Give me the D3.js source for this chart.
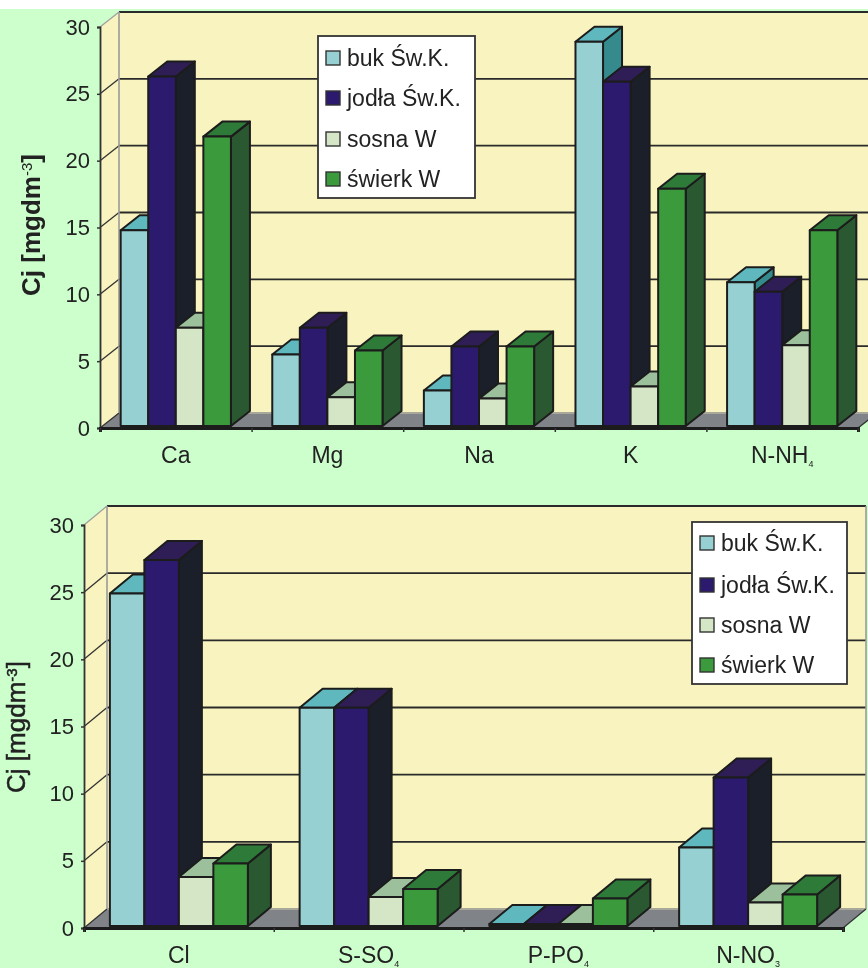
<!DOCTYPE html>
<html>
<head>
<meta charset="utf-8">
<script src="https://cdn.jsdelivr.net/npm/d3@7"></script>
<style>
    html, body { margin: 0; padding: 0; background: #ccffcc; overflow: hidden; }
    svg { display: block; filter: blur(0.6px); }
    text { font-family: "Liberation Sans", Arial, sans-serif; fill: #222; }
</style>
</head>
<body>
<div id="chart"></div>
<script>
// Data
const seriesNames = ["buk Św.K.", "jodła Św.K.", "sosna W", "świerk W"];
const yTicks = [0, 5, 10, 15, 20, 25, 30];

const topCategories = [["Ca"], ["Mg"], ["Na"], ["K"], ["N-NH", "4"]];
const topBuk = [14.8, 5.5, 2.8, 28.9, 10.9];
const topJodla = [26.3, 7.5, 6.1, 25.9, 10.2];
const topSosna = [7.5, 2.3, 2.2, 3.1, 6.2];
const topSwierk = [21.8, 5.8, 6.1, 17.9, 14.8];

const bottomCategories = [["Cl"], ["S-SO", "4"], ["P-PO", "4"], ["N-NO", "3"]];
const bottomBuk = [24.9, 16.4, 0.3, 6.0];
const bottomJodla = [27.4, 16.4, 0.3, 11.2];
const bottomSosna = [3.8, 2.3, 0.3, 1.9];
const bottomSwierk = [4.8, 2.9, 2.2, 2.5];

// front, top, side
const barColors = [
    ["#96d0d2", "#5fb8be", "#348a8c"],
    ["#2c1a6e", "#2e1e55", "#1b1f2a"],
    ["#d4e6c6", "#9cc09c", "#6f9070"],
    ["#3b9a3c", "#2e7a38", "#2a5830"]
];

const width = 868, height = 968;
const svg = d3.select("#chart").append("svg")
    .attr("width", width).attr("height", height);

svg.append("rect").attr("width", width).attr("height", height).attr("fill", "#ccffcc");
svg.append("rect").attr("width", width).attr("height", 9).attr("fill", "#ffffff");

drawChart({
    categories: topCategories,
    values: [topBuk, topJodla, topSosna, topSwierk],
    left: 100, right: 858, y0: 428, y30: 27, dx: 19, dy: 15,
    title: { x: 40, y: 225, weight: "bold", stroke: 0 },
    labelY: 463,
    legend: { x: 318, y: 36, w: 157, h: 162, rows: [58, 98, 139, 179] }
});

drawChart({
    categories: bottomCategories,
    values: [bottomBuk, bottomJodla, bottomSosna, bottomSwierk],
    left: 84, right: 843, y0: 928, y30: 525, dx: 23, dy: 19,
    title: { x: 25, y: 727, weight: "normal", stroke: 0.5 },
    labelY: 963,
    legend: { x: 692, y: 522, w: 155, h: 162, rows: [543, 585, 625, 665] }
});

function poly(points) {
    return points.map(p => p.join(",")).join(" ");
}

function drawChart(c) {
    const g = svg.append("g");
    const x0 = d3.scaleBand().domain(d3.range(c.categories.length)).range([c.left, c.right]);
    const x1 = d3.scaleBand().domain(d3.range(seriesNames.length))
        .range([0, x0.bandwidth()]).paddingInner(0).paddingOuter(0.75);
    const y = d3.scaleLinear().domain([0, 30]).range([c.y0, c.y30]);

    const L = c.left, R = c.right, dx = c.dx, dy = c.dy;

    // walls and floor
    g.append("polygon").attr("fill", "#f9f4bf")
        .attr("points", poly([[L + dx, y(30) - dy], [R + dx, y(30) - dy], [R + dx, y(0) - dy], [L + dx, y(0) - dy]]));
    g.append("polygon").attr("fill", "#f9f4bf")
        .attr("points", poly([[L, y(30)], [L + dx, y(30) - dy], [L + dx, y(0) - dy], [L, y(0)]]));
    g.append("polygon").attr("fill", "#808488")
        .attr("points", poly([[L, y(0)], [L + dx, y(0) - dy], [R + dx, y(0) - dy], [R, y(0)]]));

    // gridlines, on the back wall and running down the left wall
    yTicks.forEach(t => {
        const gy = y(t) - dy;
        g.append("line").attr("x1", L + dx).attr("x2", R + dx).attr("y1", gy).attr("y2", gy)
            .attr("stroke", t === 0 ? "#a8a89a" : "#2a2a2a").attr("stroke-width", 1.8);
        g.append("line").attr("x1", L).attr("x2", L + dx).attr("y1", y(t)).attr("y2", gy)
            .attr("stroke", t === 30 ? "#a0a0a0" : "#333").attr("stroke-width", 1.3);
    });
    // wall edges
    g.append("line").attr("x1", L + dx).attr("x2", L + dx).attr("y1", y(30) - dy).attr("y2", y(0) - dy)
        .attr("stroke", "#9a9a9a").attr("stroke-width", 1.6);
    g.append("line").attr("x1", R + dx).attr("x2", R + dx).attr("y1", y(30) - dy).attr("y2", y(0) - dy)
        .attr("stroke", "#9a9a9a").attr("stroke-width", 1.6);
    g.append("line").attr("x1", R).attr("x2", R + dx).attr("y1", y(0)).attr("y2", y(0) - dy)
        .attr("stroke", "#333").attr("stroke-width", 1.3);

    // bars, left to right so each one covers the side of the previous one
    c.categories.forEach((cat, i) => {
        seriesNames.forEach((name, s) => {
            const xa = x0(i) + x1(s), xb = xa + x1.bandwidth();
            const top = y(c.values[s][i]), base = y(0) - 2;
            const bar = g.append("g").attr("stroke", "#1c1c1c").attr("stroke-width", 2)
                .attr("stroke-linejoin", "round");
            bar.append("polygon").attr("fill", barColors[s][2])
                .attr("points", poly([[xb, top], [xb + dx, top - dy], [xb + dx, base - dy], [xb, base]]));
            bar.append("polygon").attr("fill", barColors[s][1])
                .attr("points", poly([[xa, top], [xa + dx, top - dy], [xb + dx, top - dy], [xb, top]]));
            bar.append("rect").attr("fill", barColors[s][0])
                .attr("x", xa).attr("y", top).attr("width", xb - xa).attr("height", base - top);
        });
    });

    // axes
    const yAxis = g.append("g").attr("transform", `translate(${L},0)`)
        .call(d3.axisLeft(y).tickValues(yTicks).tickSize(3).tickPadding(7));
    yAxis.selectAll("text").style("font-size", "22px");
    yAxis.select(".domain").attr("stroke", "#333").attr("stroke-width", 1.8);
    yAxis.selectAll(".tick line").attr("stroke", "#333").attr("stroke-width", 1.5);

    const xAxis = g.append("g").attr("transform", `translate(0,${y(0)})`)
        .call(d3.axisBottom(d3.scaleLinear().domain([0, c.categories.length]).range([L, R]))
            .ticks(c.categories.length).tickSize(4).tickFormat(""));
    xAxis.select(".domain").attr("stroke", "#1c1c1c").attr("stroke-width", 3);
    xAxis.selectAll(".tick line").attr("stroke", "#333").attr("stroke-width", 1.5);

    // category labels, with the chemical subscript
    c.categories.forEach((cat, i) => {
        const t = g.append("text").attr("x", x0(i) + x0.bandwidth() / 2).attr("y", c.labelY)
            .attr("text-anchor", "middle").style("font-size", "23px");
        t.append("tspan").text(cat[0]);
        if (cat[1]) t.append("tspan").attr("dy", 4).style("font-size", "9px").text(cat[1]);
    });

    // y title
    const title = g.append("text")
        .attr("transform", `translate(${c.title.x},${c.title.y}) rotate(-90)`)
        .attr("text-anchor", "middle")
        .attr("stroke", "#222").attr("stroke-width", c.title.stroke)
        .style("font-size", "26px").style("font-weight", c.title.weight);
    title.append("tspan").text("Cj [mgdm");
    title.append("tspan").attr("dy", -8).style("font-size", "15px").style("font-weight", "normal").text("-3");
    title.append("tspan").attr("dy", 8).text("]");

    // legend
    const lg = g.append("g");
    lg.append("rect").attr("x", c.legend.x).attr("y", c.legend.y)
        .attr("width", c.legend.w).attr("height", c.legend.h)
        .attr("fill", "#ffffff").attr("stroke", "#333").attr("stroke-width", 1.8);
    seriesNames.forEach((name, s) => {
        const ry = c.legend.rows[s];
        lg.append("rect").attr("x", c.legend.x + 8).attr("y", ry - 7).attr("width", 14).attr("height", 14)
            .attr("fill", barColors[s][0]).attr("stroke", "#333").attr("stroke-width", 1.4);
        lg.append("text").attr("x", c.legend.x + 29).attr("y", ry + 8)
            .style("font-size", "23px").text(name);
    });
}
</script>
</body>
</html>
